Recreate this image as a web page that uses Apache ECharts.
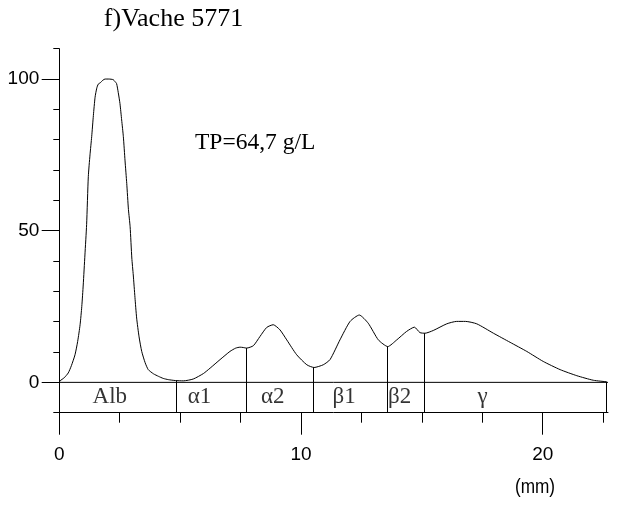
<!DOCTYPE html>
<html>
<head>
<meta charset="utf-8">
<script src="https://cdn.jsdelivr.net/npm/echarts@6/dist/echarts.min.js"></script>
<style>
html,body{margin:0;padding:0;background:#fff;}
#c{width:621px;height:506px;}
</style>
</head>
<body>
<div id="c"></div>
<script>
// ---- data ----
var curveX = [0,0.03,0.2,0.37,0.5,0.65,0.76,0.86,0.93,0.99,1.06,1.13,1.2,1.27,1.34,1.41,1.48,1.55,1.61,1.7,1.8,1.89,2.05,2.23,2.3,2.37,2.44,2.51,2.58,2.65,2.72,2.79,2.86,2.93,3.0,3.06,3.13,3.2,3.3,3.41,3.55,3.68,3.9,4.1,4.3,4.51,4.8,5.13,5.54,5.96,6.24,6.65,7.06,7.3,7.48,7.6,7.75,8.03,8.3,8.58,8.85,9.13,9.41,9.82,10.24,10.54,10.92,11.2,11.61,12.03,12.41,12.78,13.2,13.59,13.96,14.37,14.69,14.92,15.13,15.47,16.03,16.44,16.8,17.27,17.96,18.65,19.34,20.02,20.72,21.41,22.09,22.64];
var curveY = [0,0.5,1.5,3.1,5.5,9.1,13.5,19,25,32.1,42,52,67.8,75,81,88,94,97,98.3,98.8,99.6,100,100,99.8,99.2,98.5,95.5,91.9,86.5,81,73,65.6,57,51.3,41,35.4,28,21.2,15,10.2,6.5,4.2,2.8,2.0,1.3,0.9,0.6,0.5,1.1,2.9,4.7,7.5,10.2,11.3,11.6,11.5,11.3,12.1,15.1,18.1,19,17.3,14,9.1,5.8,4.9,5.8,7.5,14,20.1,22.2,19.5,14,11.8,14,16.8,18.2,16.4,16.2,17.1,19.3,20.1,20.1,19.3,16.2,13.2,10.2,6.9,4.2,2.2,0.7,0.2];
var boundaryX = [4.82,7.72,10.52,13.57,15.1,22.62];
var boundaryY = [0.6,11.3,4.9,11.8,16.2,0.2];
var bandNames = ['Alb','\u03b11','\u03b12','\u03b21','\u03b22','\u03b3'];
var bandLabelX = [2.09,5.80,8.83,11.78,14.08,17.51];
var bandLabelY = -4.7;
var stripBottom = -10;
var xMax = 22.7;
var yMin = -10, yMax = 110;
var xMinorTicks = [0,2.5,5,7.5,10,12.5,15,17.5,20,22.5];
var xMajorTicks = [0,10,20];
var yMinorTicks = [-10,0,10,20,30,40,50,60,70,80,90,100,110];
var yMajorTicks = [0,50,100];
var titleText = 'f)Vache 5771';
var tpText = 'TP=64,7 g/L';
var unitText = '(mm)';

// ---- chart ----
var chart = echarts.init(document.getElementById('c'), null, {renderer:'canvas'});
var sans = "'Liberation Sans',Arial,sans-serif";
var serif = "'Liberation Serif','Times New Roman',serif";
var black = '#000';

var curve = curveX.map(function(x,i){return [x, curveY[i]];});
var seps = boundaryX.map(function(x,i){return {coords:[[x, stripBottom],[x, boundaryY[i]]]};});
var labels = bandNames.map(function(n,i){return {value:[bandLabelX[i], bandLabelY], name:n};});

chart.setOption({
  animation:false,
  backgroundColor:'#fff',
  grid:{left:59.3, top:48.7, width:548.7, height:364, containLabel:false},
  xAxis:[
    {type:'value', min:0, max:xMax, position:'bottom',
     axisLine:{show:true, onZero:false, lineStyle:{color:black, width:1}},
     axisTick:{show:true, customValues:xMinorTicks, length:10, lineStyle:{color:black, width:1}},
     axisLabel:{show:false}, splitLine:{show:false}},
    {type:'value', min:0, max:xMax, position:'bottom',
     axisLine:{show:false, onZero:false},
     axisTick:{show:true, customValues:xMajorTicks, length:22, lineStyle:{color:black, width:1}},
     axisLabel:{show:true, customValues:xMajorTicks, margin:33, fontSize:19, fontFamily:sans, color:black},
     splitLine:{show:false}}
  ],
  yAxis:[
    {type:'value', min:yMin, max:yMax, position:'left',
     axisLine:{show:true, onZero:false, lineStyle:{color:black, width:1}},
     axisTick:{show:true, customValues:yMinorTicks, length:6, lineStyle:{color:black, width:1}},
     axisLabel:{show:false}, splitLine:{show:false}},
    {type:'value', min:yMin, max:yMax, position:'left',
     axisLine:{show:false, onZero:false},
     axisTick:{show:true, customValues:yMajorTicks, length:17.6, lineStyle:{color:black, width:1}},
     axisLabel:{show:true, customValues:yMajorTicks, margin:20, fontSize:19, fontFamily:sans, color:black},
     splitLine:{show:false}}
  ],
  series:[
    {type:'line', data:curve, showSymbol:false, smooth:0.2, lineStyle:{color:black, width:1}, z:3},
    {type:'line', data:[[0,0],[xMax,0]], showSymbol:false, lineStyle:{color:black, width:1}, z:2},
    {type:'lines', coordinateSystem:'cartesian2d', data:seps, lineStyle:{color:black, width:1, opacity:1}, z:2},
    {type:'scatter', data:labels, symbolSize:0,
     label:{show:true, position:'inside', formatter:function(p){return p.name;}, fontFamily:serif, fontSize:23, color:black}}
  ],
  graphic:[
    {type:'text', x:173.5, y:31.7, style:{text:titleText, font:'26px '+serif, fill:black, align:'center', verticalAlign:'bottom'}},
    {type:'text', x:195, y:155, style:{text:tpText, font:'23.5px '+serif, fill:black, align:'left', verticalAlign:'bottom'}},
    {type:'text', x:535, y:487, scaleX:0.82, style:{text:unitText, font:'21px '+sans, fill:black, align:'center', verticalAlign:'middle'}}
  ]
});
</script>
</body>
</html>
